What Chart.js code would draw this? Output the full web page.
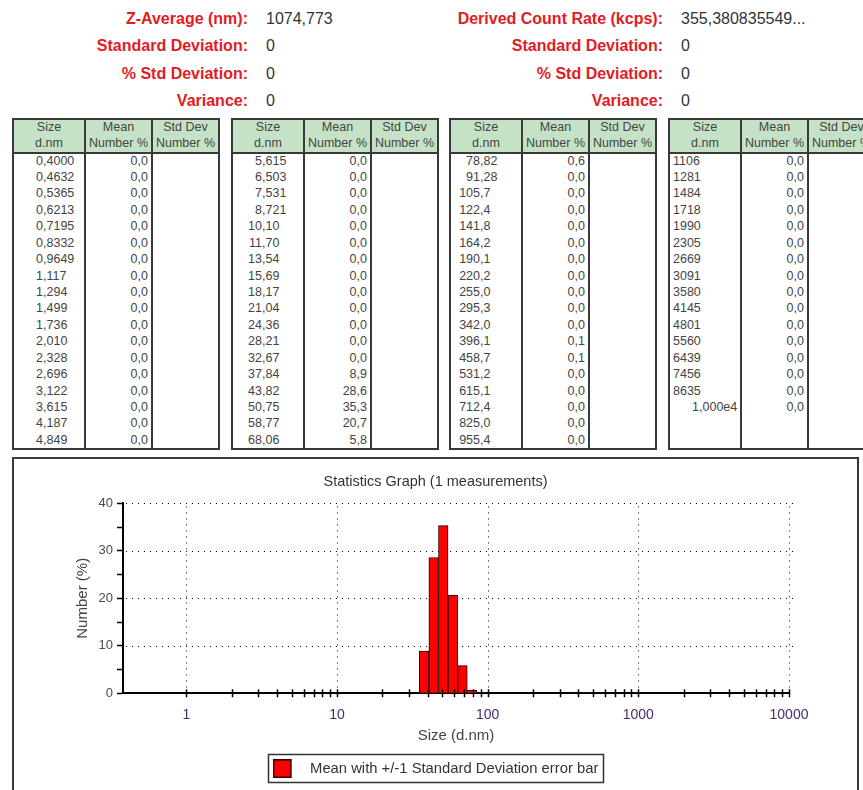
<!DOCTYPE html>
<html>
<head>
<meta charset="utf-8">
<title>Statistics Graph</title>
<script src="https://cdn.jsdelivr.net/npm/chart.js@4.4.1/dist/chart.umd.min.js"></script>
<style>
html, body { margin: 0; padding: 0; background: #fff; width: 863px; height: 790px; overflow: hidden;
  font-family: "Liberation Sans", Arial, sans-serif; position: relative; }
.lbl { position: absolute; font-size: 16px; line-height: 20px; font-weight: bold; color: #e31b23; text-align: right; white-space: nowrap; }
.val { position: absolute; font-size: 16px; line-height: 20px; color: #333; white-space: nowrap; }
.tbl { position: absolute; top: 118px; width: 208px; height: 332px; border: 2px solid #3a3a3a; box-sizing: border-box;
  font-size: 12.5px; color: #444; background: #fff; }
.hdr { position: absolute; left: 0; top: 0; width: 204px; height: 32px; background: #c6e2c6; border-bottom: 2px solid #3a3a3a; }
.vl { position: absolute; top: 0; bottom: 0; width: 2px; background: #3a3a3a; }
.hc { position: absolute; top: 0; text-align: center; line-height: 15.5px; white-space: nowrap; }
.cell { position: absolute; height: 16.43px; line-height: 16.43px; white-space: nowrap; }
.ip { display: inline-block; width: 29px; text-align: right; }
.frame { position: absolute; left: 12px; top: 457px; width: 843px; height: 345px; border: 2px solid #3a3a3a; }
</style>
</head>
<body>

<div class="lbl" style="left:0;width:248px;top:9px">Z-Average (nm):</div>
<div class="val" style="left:266px;top:9px">1074,773</div>
<div class="lbl" style="left:0;width:248px;top:36px">Standard Deviation:</div>
<div class="val" style="left:266px;top:36px">0</div>
<div class="lbl" style="left:0;width:248px;top:64px">% Std Deviation:</div>
<div class="val" style="left:266px;top:64px">0</div>
<div class="lbl" style="left:0;width:248px;top:91px">Variance:</div>
<div class="val" style="left:266px;top:91px">0</div>

<div class="lbl" style="left:300px;width:363px;top:9px">Derived Count Rate (kcps):</div>
<div class="val" style="left:681px;top:9px">355,380835549...</div>
<div class="lbl" style="left:300px;width:363px;top:36px">Standard Deviation:</div>
<div class="val" style="left:681px;top:36px">0</div>
<div class="lbl" style="left:300px;width:363px;top:64px">% Std Deviation:</div>
<div class="val" style="left:681px;top:64px">0</div>
<div class="lbl" style="left:300px;width:363px;top:91px">Variance:</div>
<div class="val" style="left:681px;top:91px">0</div>

<div id="tables"></div>

<div class="frame">
  <canvas id="statsChart" width="843" height="327"></canvas>
</div>

<script>
// Size classes (d.nm), as printed in the table
const sizeLabels = [
  '0,4000', '0,4632', '0,5365', '0,6213', '0,7195', '0,8332', '0,9649', '1,117', '1,294',
  '1,499', '1,736', '2,010', '2,328', '2,696', '3,122', '3,615', '4,187', '4,849',
  '5,615', '6,503', '7,531', '8,721', '10,10', '11,70', '13,54', '15,69', '18,17',
  '21,04', '24,36', '28,21', '32,67', '37,84', '43,82', '50,75', '58,77', '68,06',
  '78,82', '91,28', '105,7', '122,4', '141,8', '164,2', '190,1', '220,2', '255,0',
  '295,3', '342,0', '396,1', '458,7', '531,2', '615,1', '712,4', '825,0', '955,4',
  '1106', '1281', '1484', '1718', '1990', '2305', '2669', '3091', '3580',
  '4145', '4801', '5560', '6439', '7456', '8635', '1,000e4'
];

// Mean Number %
const meanNumber = [
  0, 0, 0, 0, 0, 0, 0, 0, 0,
  0, 0, 0, 0, 0, 0, 0, 0, 0,
  0, 0, 0, 0, 0, 0, 0, 0, 0,
  0, 0, 0, 0, 8.9, 28.6, 35.3, 20.7, 5.8,
  0.6, 0, 0, 0, 0, 0, 0, 0, 0,
  0, 0, 0.1, 0.1, 0, 0, 0, 0, 0,
  0, 0, 0, 0, 0, 0, 0, 0, 0,
  0, 0, 0, 0, 0, 0, 0
];

const xTickLabels = ['1', '10', '100', '1000', '10000'];
const yTickLabels = ['0', '10', '20', '30', '40'];

const sizes = sizeLabels.map(s => parseFloat(s.replace(',', '.')));
const xMajor = xTickLabels.map(Number);
const yMajor = yTickLabels.map(Number);

// ---- tables ----
const tableLefts = [12, 231, 449, 668];
const rowsPerTable = 18;
const colLeft = [0, 72, 139];
const colWidth = [70, 65, 65];

function buildTables() {
  const host = document.getElementById('tables');
  for (let t = 0; t < tableLefts.length; t++) {
    const tbl = document.createElement('div');
    tbl.className = 'tbl';
    tbl.style.left = tableLefts[t] + 'px';
    let html = '<div class="hdr"></div>';
    const heads = [['Size', 'd.nm'], ['Mean', 'Number %'], ['Std Dev', 'Number %']];
    heads.forEach((h, c) => {
      html += '<div class="hc" style="left:' + colLeft[c] + 'px;width:' + colWidth[c] + 'px">' + h[0] + '<br>' + h[1] + '</div>';
    });
    html += '<div class="vl" style="left:70px"></div><div class="vl" style="left:137px"></div>';
    for (let r = 0; r < rowsPerTable; r++) {
      const i = t * rowsPerTable + r;
      if (i >= sizeLabels.length) break;
      const top = 32.5 + r * 16.43;
      const s = sizeLabels[i];
      const k = s.indexOf(',');
      let sizeHtml;
      if (k < 0) sizeHtml = '<span style="padding-left:3px">' + s + '</span>';
      else sizeHtml = '<span class="ip">' + s.slice(0, k) + '</span>' + s.slice(k);
      html += '<div class="cell" style="left:0;top:' + top + 'px;width:70px">' + sizeHtml + '</div>';
      html += '<div class="cell" style="left:72px;top:' + top + 'px;width:62px;text-align:right;padding-right:3px">' +
        meanNumber[i].toFixed(1).replace('.', ',') + '</div>';
    }
    tbl.innerHTML = html;
    host.appendChild(tbl);
  }
}
buildTables();

// ---- chart ----
Chart.defaults.font.family = '"Liberation Sans", Arial, sans-serif';

// legend symbol: red square with some room after it
const legendSwatch = document.createElement('canvas');
legendSwatch.width = 30;
legendSwatch.height = 19;
(function () {
  const g = legendSwatch.getContext('2d');
  g.fillStyle = '#ff0000';
  g.fillRect(0, 0, 19, 19);
  g.strokeStyle = '#2a0000';
  g.lineWidth = 1.5;
  g.strokeRect(0.75, 0.75, 17.5, 17.5);
})();

// dotted grid at the labelled values, ticks crossing the x axis, box round the legend
const reportStyle = {
  id: 'reportStyle',
  beforeDatasetsDraw(chart) {
    const {ctx, chartArea, scales: {x, y}} = chart;
    ctx.save();
    ctx.strokeStyle = '#000';
    ctx.lineWidth = 1;
    ctx.setLineDash([1, 5]);
    ctx.beginPath();
    yMajor.filter(v => v > 0).forEach(v => {
      const py = Math.round(y.getPixelForValue(v)) + 0.5;
      ctx.moveTo(chartArea.left + 3, py);
      ctx.lineTo(chartArea.right + 8, py);
    });
    xMajor.forEach(v => {
      const px = Math.round(x.getPixelForValue(v)) + 0.5;
      ctx.moveTo(px, chartArea.top + 3);
      ctx.lineTo(px, chartArea.bottom);
    });
    ctx.stroke();
    ctx.restore();
  },
  afterDatasetsDraw(chart) {
    const {ctx, chartArea, scales: {x}} = chart;
    ctx.save();
    ctx.strokeStyle = '#000';
    ctx.lineWidth = 1.5;
    ctx.beginPath();
    for (let d = 0; d < xMajor.length; d++) {
      for (let m = 1; m <= 9; m++) {
        const v = m * xMajor[d];
        if (v > x.max) break;
        const px = Math.round(x.getPixelForValue(v)) + 0.5;
        ctx.moveTo(px, chartArea.bottom - 4);
        ctx.lineTo(px, chartArea.bottom + 4);
      }
    }
    ctx.stroke();
    ctx.restore();
  },
  afterDraw(chart) {
    const hb = chart.legend && chart.legend.legendHitBoxes[0];
    if (!hb) return;
    const ctx = chart.ctx;
    ctx.save();
    ctx.strokeStyle = '#333';
    ctx.lineWidth = 1.5;
    const l = Math.round(hb.left) - 4.5;
    const t = Math.round(hb.top) - 6.5;
    ctx.strokeRect(l, t, Math.round(hb.width) + 9, Math.round(hb.height) + 13);
    ctx.restore();
  }
};

const ctx = document.getElementById('statsChart').getContext('2d');

new Chart(ctx, {
  type: 'bar',
  data: {
    datasets: [{
      label: 'Mean with +/-1 Standard Deviation error bar',
      data: sizes.map((s, i) => ({x: s, y: meanNumber[i]})),
      backgroundColor: '#ff0000',
      borderColor: '#2a0000',
      borderWidth: 1,
      barPercentage: 1,
      categoryPercentage: 1
    }]
  },
  options: {
    responsive: false,
    animation: false,
    layout: {padding: 0},
    plugins: {
      title: {
        display: true,
        text: 'Statistics Graph (1 measurements)',
        color: '#333',
        font: {size: 14.5, weight: 'normal'},
        padding: {top: 14, bottom: 13}
      },
      legend: {
        position: 'bottom',
        labels: {
          usePointStyle: true,
          pointStyle: legendSwatch,
          pointStyleWidth: 30,
          padding: 16,
          color: '#333',
          font: {size: 14.8}
        }
      },
      tooltip: {enabled: false}
    },
    scales: {
      x: {
        type: 'logarithmic',
        min: 0.38,
        max: 10000,
        offset: false,
        grid: {display: false, drawTicks: false},
        border: {display: true, color: '#000', width: 2},
        afterBuildTicks: scale => { scale.ticks = xMajor.map(v => ({value: v})); },
        afterFit: scale => { scale.height = 52; },
        ticks: {
          autoSkip: false,
          maxRotation: 0,
          padding: 14,
          color: '#4b2c63',
          font: {size: 14},
          callback: (v, i) => xTickLabels[i]
        },
        title: {display: true, text: 'Size (d.nm)', color: '#444', font: {size: 15}, padding: {top: 0, bottom: 0}}
      },
      y: {
        min: 0,
        max: 40,
        grid: {drawOnChartArea: false, drawTicks: true, tickLength: 6, tickColor: '#000', tickWidth: 1.5},
        border: {display: true, color: '#000', width: 2},
        afterFit: scale => { scale.width = 109; },
        ticks: {
          stepSize: 5,
          padding: 4,
          color: '#4a4a4a',
          font: {size: 13},
          callback: v => { const k = yMajor.indexOf(v); return k >= 0 ? yTickLabels[k] : ''; }
        },
        title: {display: true, text: 'Number (%)', color: '#444', font: {size: 15}, padding: {top: 60, bottom: 0}}
      },
      // empty right-hand margin, keeps title and legend centred on the whole frame
      yRight: {
        type: 'linear',
        position: 'right',
        display: true,
        grid: {display: false, drawTicks: false},
        border: {display: false},
        ticks: {display: false},
        afterFit: scale => { scale.width = 68; }
      }
    }
  },
  plugins: [reportStyle]
});
</script>
</body>
</html>
